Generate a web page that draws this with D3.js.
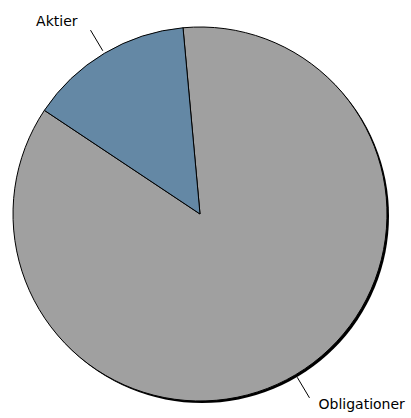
<!DOCTYPE html>
<html>
<head>
<meta charset="utf-8">
<script src="https://cdn.jsdelivr.net/npm/d3@7"></script>
<style>
  body { margin: 0; background: #fff; }
  text { font-family: "DejaVu Sans", Verdana, sans-serif; font-size: 14px; fill: #000; }
</style>
</head>
<body>
<svg width="411" height="418"></svg>
<script>
var labels = ["Obligationer", "Aktier"];
var values = [85.8, 14.2];
var colors = ["#a0a0a0", "#6488a5"];

var svg = d3.select("svg"),
  cx = 200,
  cy = 214,
  radius = 187;

var pie = d3.pie()
  .sort(null)
  .startAngle(-0.091)
  .endAngle(-0.091 + 2 * Math.PI);

var arcs = pie(values);

var arc = d3.arc().innerRadius(0).outerRadius(radius);

var g = svg.append("g").attr("transform", "translate(" + cx + "," + cy + ")");

// shadow
g.append("circle")
  .attr("cx", 2)
  .attr("cy", 2)
  .attr("r", radius)
  .attr("fill", "#000");

g.selectAll(".slice")
  .data(arcs)
  .enter().append("path")
  .attr("class", "slice")
  .attr("d", arc)
  .attr("fill", function(d, i) { return colors[i]; })
  .attr("stroke", "#000")
  .attr("stroke-width", 1);

function pt(a, r) {
  return [r * Math.sin(a), -r * Math.cos(a)];
}

g.selectAll(".leader")
  .data(arcs)
  .enter().append("line")
  .attr("stroke", "#000")
  .attr("stroke-width", 1)
  .attr("x1", function(d) { return pt((d.startAngle + d.endAngle) / 2, radius + 3)[0]; })
  .attr("y1", function(d) { return pt((d.startAngle + d.endAngle) / 2, radius + 3)[1]; })
  .attr("x2", function(d) { return pt((d.startAngle + d.endAngle) / 2, radius + 27)[0]; })
  .attr("y2", function(d) { return pt((d.startAngle + d.endAngle) / 2, radius + 27)[1]; });

g.selectAll(".lbl")
  .data(arcs)
  .enter().append("text")
  .attr("class", "lbl")
  .attr("text-anchor", function(d) { return Math.sin((d.startAngle + d.endAngle) / 2) < 0 ? "end" : "start"; })
  .attr("x", function(d) {
    var p = pt((d.startAngle + d.endAngle) / 2, radius + 27);
    return p[0] + (p[0] < 0 ? -13 : 9);
  })
  .attr("y", function(d) {
    var p = pt((d.startAngle + d.endAngle) / 2, radius + 27);
    return p[1] + (p[1] < 0 ? -4 : 11);
  })
  .text(function(d, i) { return labels[i]; });
</script>
</body>
</html>
